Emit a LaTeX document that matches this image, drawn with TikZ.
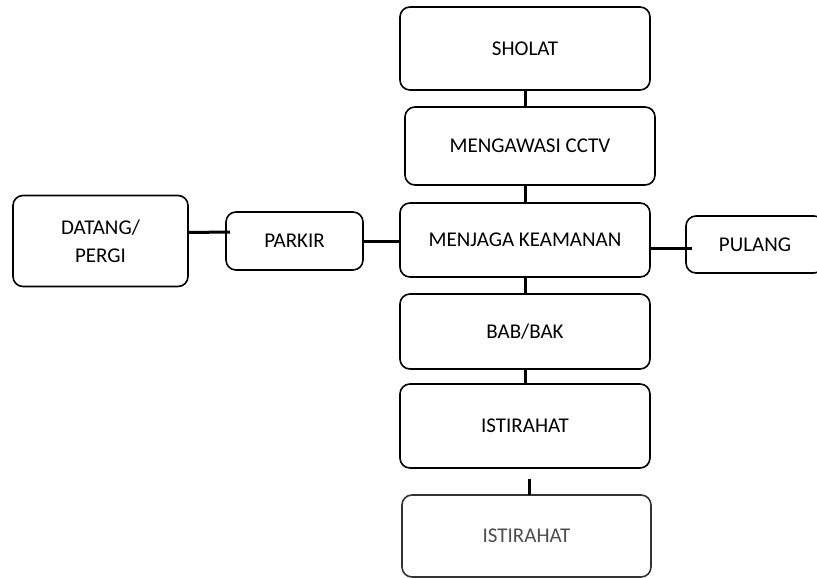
\documentclass[tikz,border=0pt]{standalone}
\usepackage{fontspec}
\setmainfont{Carlito}
\usetikzlibrary{positioning}

\tikzset{
  box/.style={draw, rounded corners=10pt, line width=1.6pt, inner sep=0pt, outer sep=0pt,
    align=center, font=\fontsize{21}{28}\selectfont},
  link/.style={line width=3pt}
}

\begin{document}
\begin{tikzpicture}[x=1pt, y=1pt, node distance=17pt]
            \useasboundingbox (0,0) rectangle (817,-578);
            \clip (0,0) rectangle (817,-578);
            \node[box, minimum width=250pt, minimum height=83pt] (sholat) at (525,-48.5) {SHOLAT};
            \node[box, minimum width=250pt, minimum height=78pt, xshift=5pt] (cctv) [below=of sholat] {MENGAWASI CCTV};
            \node[box, minimum width=250pt, minimum height=74pt, xshift=-5pt] (menjaga) [below=18pt of cctv] {MENJAGA KEAMANAN};
            \node[box, minimum width=250pt, minimum height=75pt] (bab) [below=of menjaga] {BAB/BAK};
            \node[box, minimum width=250pt, minimum height=84pt] (istirahat_a) [below=15pt of bab] {ISTIRAHAT};
            \node[box, draw=black!80, text=black!70, minimum width=249pt, minimum height=82pt, xshift=1.5pt] (istirahat_b) [below=27pt of istirahat_a] {ISTIRAHAT};
            \node[box, minimum width=137pt, minimum height=58pt, yshift=-1pt] (parkir) [left=37pt of menjaga] {PARKIR};
            \node[box, minimum width=175pt, minimum height=91pt] (datang) [left=38pt of parkir] {DATANG/\\PERGI};
            \node[box, minimum width=138pt, minimum height=57pt, yshift=-4.5pt] (pulang) [right=36pt of menjaga] {PULANG};
            \coordinate (stub) at ([xshift=2.5pt, yshift=16pt]istirahat_b.north);
            \draw[link] (sholat.south) -- (sholat.south |- cctv.north);
            \draw[link] (sholat.south |- cctv.south) -- (menjaga.north);
            \draw[link] (menjaga.south) -- (bab.north);
            \draw[link] (bab.south) -- (istirahat_a.north);
            \draw[link] (stub) -- (stub |- istirahat_b.north);
            \draw[link] ([yshift=8.5pt]datang.east) -- ([xshift=4pt, yshift=9pt]parkir.west);
            \draw[link] (parkir.east) -- (parkir.east -| menjaga.west);
            \draw[link] ([yshift=-8pt]menjaga.east) -- ([xshift=6pt, yshift=-3.5pt]pulang.west);
        \end{tikzpicture}
\end{document}
